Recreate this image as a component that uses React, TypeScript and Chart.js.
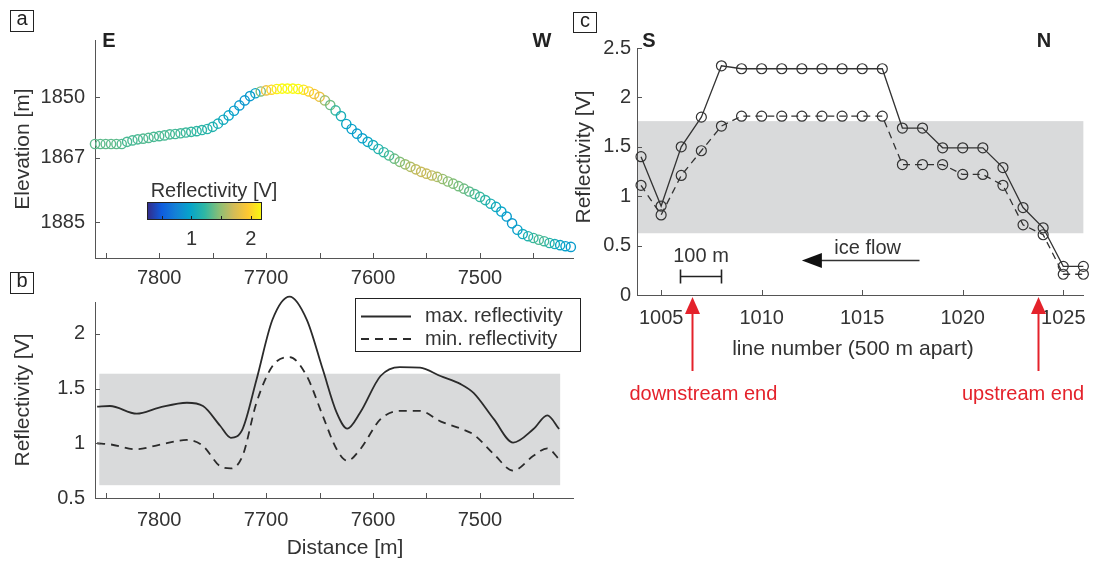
import React, { useEffect, useRef } from 'react';
import { Chart, registerables } from 'chart.js';

Chart.register(...registerables);

const W = 1097;
const H = 563;
const FONT = '"Liberation Sans", Arial, Helvetica, sans-serif';
const TEXT = '#333333';
const AXIS = '#555555';
const BAND = '#d9dadb';
const RED = '#e4222b';

// ---------------- Panel a: elevation profile coloured by reflectivity ----------------
const distanceA = [
  7860, 7855, 7850, 7845, 7840, 7835, 7830, 7825, 7820, 7815, 7810, 7805, 7800, 7795, 7790,
  7785, 7780, 7775, 7770, 7765, 7760, 7755, 7750, 7745, 7740, 7735, 7730, 7725, 7720, 7715,
  7710, 7705, 7700, 7695, 7690, 7685, 7680, 7675, 7670, 7665, 7660, 7655, 7650, 7645, 7640,
  7635, 7630, 7625, 7620, 7615, 7610, 7605, 7600, 7595, 7590, 7585, 7580, 7575, 7570, 7565,
  7560, 7555, 7550, 7545, 7540, 7535, 7530, 7525, 7520, 7515, 7510, 7505, 7500, 7495, 7490,
  7485, 7480, 7475, 7470, 7465, 7460, 7455, 7450, 7445, 7440, 7435, 7430, 7425, 7420, 7415,
];
const elevationA = [
  1863.1, 1863.1, 1863.1, 1863.1, 1863.1, 1863.1, 1862.5, 1862.1, 1861.8, 1861.6, 1861.4, 1861.1, 1860.9, 1860.7, 1860.4,
  1860.3, 1860.1, 1859.9, 1859.7, 1859.5, 1859.2, 1858.9, 1858.3, 1857.4, 1856.3, 1855.1, 1853.8, 1852.3, 1850.9, 1849.7,
  1848.9, 1848.4, 1848.1, 1847.9, 1847.7, 1847.6, 1847.6, 1847.6, 1847.7, 1847.9, 1848.4, 1849.1, 1849.9, 1850.9, 1852.2,
  1853.7, 1855.3, 1857.5, 1858.9, 1860.2, 1861.5, 1862.5, 1863.4, 1864.5, 1865.4, 1866.3, 1867.2, 1868.1, 1868.8, 1869.5,
  1870.2, 1870.9, 1871.4, 1871.9, 1872.3, 1872.9, 1873.6, 1874.2, 1874.9, 1875.6, 1876.4, 1877.1, 1877.9, 1878.8, 1879.8,
  1880.7, 1882.0, 1883.4, 1885.3, 1887.1, 1888.3, 1888.9, 1889.4, 1889.9, 1890.3, 1890.8, 1891.1, 1891.4, 1891.7, 1891.9,
];
const reflectivityA = [
  1.35, 1.35, 1.35, 1.35, 1.35, 1.32, 1.3, 1.3, 1.3, 1.32, 1.32, 1.3, 1.3, 1.3, 1.3,
  1.28, 1.28, 1.26, 1.24, 1.22, 1.2, 1.18, 1.15, 1.1, 1.05, 1.0, 0.95, 0.9, 0.88, 0.9,
  1.0, 1.45, 1.85, 2.0, 2.15, 2.2, 2.2, 2.2, 2.2, 2.1, 2.0, 1.9, 1.85, 1.55, 1.4,
  1.25, 1.1, 1.0, 0.95, 0.92, 0.95, 1.0, 1.08, 1.15, 1.22, 1.3, 1.38, 1.45, 1.52, 1.6,
  1.65, 1.68, 1.68, 1.65, 1.6, 1.52, 1.48, 1.45, 1.42, 1.4, 1.35, 1.3, 1.25, 1.2, 1.12,
  1.05, 0.98, 0.92, 0.9, 0.95, 1.05, 1.15, 1.25, 1.3, 1.28, 1.2, 1.1, 1.0, 0.95, 0.92,
];
const distanceRange = [7413, 7860];
const elevationRange = [1834, 1895];
const elevationTicks = [1850, 1867, 1885];
const distanceTicks = [7850, 7800, 7750, 7700, 7650, 7600, 7550, 7500, 7450];
const distanceLabels = [7800, 7700, 7600, 7500];
const colorbarRange = [0.25, 2.19];
const colorbarTicks = [0.5, 1, 1.5, 2];
const colorbarLabels = [1, 2];

// ---------------- Panel b: max / min reflectivity along distance ----------------
const distanceB = [
  7858, 7846, 7821, 7800, 7774, 7759, 7743, 7733, 7722, 7709, 7694, 7678, 7662, 7647,
  7634, 7624, 7612, 7593, 7575, 7556, 7537, 7518, 7506, 7487, 7469, 7450, 7437, 7426,
];
const maxReflB = [
  1.335, 1.34, 1.27, 1.325, 1.37, 1.34, 1.16, 1.05, 1.13, 1.58, 2.13, 2.34, 2.13, 1.675,
  1.28, 1.134, 1.28, 1.614, 1.696, 1.69, 1.614, 1.54, 1.46, 1.22, 1.006, 1.13, 1.255, 1.13,
];
const minReflB = [
  1.0, 0.99, 0.945, 0.985, 1.03, 0.975, 0.79, 0.77, 0.885, 1.37, 1.705, 1.787, 1.614, 1.25,
  0.945, 0.84, 0.945, 1.22, 1.295, 1.295, 1.2, 1.134, 1.08, 0.9, 0.75, 0.885, 0.954, 0.854,
];
const reflRangeB = [0.5, 2.29];
const reflTicksB = [0.5, 1, 1.5, 2];
const bandBx = [7856, 7425];
const bandBy = [0.617, 1.635];
const seriesLabels = ['max. reflectivity', 'min. reflectivity'];

// ---------------- Panel c: reflectivity per survey line ----------------
const lineNumbers = [
  1004, 1005, 1006, 1007, 1008, 1009, 1010, 1011, 1012, 1013, 1014, 1015,
  1016, 1017, 1018, 1019, 1020, 1021, 1022, 1023, 1024, 1025, 1026,
];
const maxReflC = [
  1.4, 0.9, 1.5, 1.8, 2.32, 2.29, 2.29, 2.29, 2.29, 2.29, 2.29, 2.29,
  2.29, 1.69, 1.69, 1.49, 1.49, 1.49, 1.29, 0.885, 0.68, 0.29, 0.29,
];
const minReflC = [
  1.11, 0.81, 1.21, 1.46, 1.71, 1.81, 1.81, 1.81, 1.81, 1.81, 1.81, 1.81,
  1.81, 1.32, 1.32, 1.32, 1.22, 1.22, 1.11, 0.71, 0.61, 0.21, 0.21,
];
const lineRange = [1003.8, 1026];
const reflRangeC = [0, 2.5];
const lineTicks = [1005, 1010, 1015, 1020, 1025];
const reflTicksC = [0, 0.5, 1, 1.5, 2, 2.5];
const bandCy = [0.625, 1.76];
const endArrowLines = [1006.54, 1023.73];
const endLabelLines = [1007.1, 1023.0];
const endLabels = ['downstream end', 'upstream end'];
const scaleBarLines = [1005.95, 1008.0];
const scaleBarRefl = 0.196;
const scaleBarText = '100 m';
const iceFlowLines = [1012.0, 1017.85];
const iceFlowRefl = 0.355;
const iceFlowText = 'ice flow';

// ---------------- helpers ----------------
const PARULA = ['#352a87', '#0f5cdd', '#1481d6', '#06a4ca', '#2eb7a4', '#87bf77', '#d1bb59', '#fec832', '#f9fb0e'];

function hexToRgb(h: string) {
  const n = parseInt(h.slice(1), 16);
  return [(n >> 16) & 255, (n >> 8) & 255, n & 255];
}

function parula(v: number) {
  const [lo, hi] = colorbarRange;
  const t = Math.min(1, Math.max(0, (v - lo) / (hi - lo)));
  const pos = t * (PARULA.length - 1);
  const i = Math.min(PARULA.length - 2, Math.floor(pos));
  const f = pos - i;
  const a = hexToRgb(PARULA[i]);
  const b = hexToRgb(PARULA[i + 1]);
  const c = a.map((x, k) => Math.round(x + (b[k] - x) * f));
  return `rgb(${c[0]},${c[1]},${c[2]})`;
}

function text(ctx: any, s: string, x: number, y: number, size = 20, align = 'center', bold = false, color = TEXT, rot = 0) {
  ctx.save();
  ctx.font = `${bold ? 'bold ' : ''}${size}px ${FONT}`;
  ctx.fillStyle = color;
  ctx.textAlign = align;
  ctx.textBaseline = 'middle';
  ctx.translate(x, y);
  if (rot) ctx.rotate(rot);
  ctx.fillText(s, 0, 0);
  ctx.restore();
}

function panelLetter(ctx: any, s: string, x: number, y: number, w: number, h: number) {
  ctx.save();
  ctx.strokeStyle = '#222';
  ctx.lineWidth = 1;
  ctx.strokeRect(x + 0.5, y + 0.5, w, h);
  ctx.restore();
  text(ctx, s, x + w / 2 + 0.5, y + h / 2 - 1, 20, 'center', false, '#222');
}

function inwardTicks(chart: any, len = 5) {
  const { ctx, chartArea: a } = chart;
  const xs = chart.scales.x;
  const ys = chart.scales.y;
  ctx.save();
  ctx.strokeStyle = AXIS;
  ctx.lineWidth = 1;
  ctx.beginPath();
  xs.ticks.forEach((t: any) => {
    const p = Math.round(xs.getPixelForValue(t.value)) + 0.5;
    ctx.moveTo(p, a.bottom);
    ctx.lineTo(p, a.bottom - len);
  });
  ys.ticks.forEach((t: any) => {
    const p = Math.round(ys.getPixelForValue(t.value)) + 0.5;
    ctx.moveTo(a.left, p);
    ctx.lineTo(a.left + len, p);
  });
  ctx.stroke();
  ctx.restore();
}

function baseScale(o: any) {
  const { ticks, ...rest } = o;
  return {
    type: 'linear',
    grid: { display: false, drawTicks: false },
    border: { display: true, color: AXIS, width: 1 },
    ...rest,
    ticks: {
      color: TEXT,
      font: { family: FONT, size: 20 },
      autoSkip: false,
      maxRotation: 0,
      minRotation: 0,
      includeBounds: false,
      callback: (v: any) => String(v),
      ...ticks,
    },
  };
}

const yTitle = (s: string) => ({
  display: true,
  text: s,
  color: TEXT,
  font: { family: FONT, size: 21 },
  padding: { top: 3, bottom: 0 },
});

function makeA(canvas: HTMLCanvasElement) {
  const plugin = {
    id: 'panelA',
    afterDraw(chart: any) {
      const ctx = chart.ctx;
      inwardTicks(chart);
      panelLetter(ctx, 'a', 10, 10, 23, 21);
      text(ctx, 'E', 109, 41, 20, 'center', true, '#222');
      text(ctx, 'W', 542, 41, 20, 'center', true, '#222');
      // colour bar
      const [c0, c1] = colorbarRange;
      const L = 147, R = 262, T = 202, B = 220;
      const g = ctx.createLinearGradient(L, 0, R, 0);
      PARULA.forEach((c, i) => g.addColorStop(i / (PARULA.length - 1), c));
      ctx.save();
      ctx.fillStyle = g;
      ctx.fillRect(L, T, R - L, B - T);
      ctx.strokeStyle = '#222';
      ctx.lineWidth = 1;
      ctx.strokeRect(L + 0.5, T + 0.5, R - L - 1, B - T - 1);
      ctx.beginPath();
      colorbarTicks.forEach((v) => {
        const px = Math.round(L + ((v - c0) / (c1 - c0)) * (R - L)) + 0.5;
        ctx.moveTo(px, B);
        ctx.lineTo(px, B - 4);
      });
      ctx.stroke();
      ctx.restore();
      colorbarLabels.forEach((v) => {
        const px = L + ((v - c0) / (c1 - c0)) * (R - L);
        text(ctx, String(v), px, 239, 20);
      });
      text(ctx, 'Reflectivity [V]', 214, 191, 20);
    },
  };
  return new Chart(canvas, {
    type: 'scatter',
    data: {
      datasets: [
        {
          data: distanceA.map((d, i) => ({ x: d, y: elevationA[i] })),
          showLine: false,
          pointRadius: 4.6,
          pointBorderWidth: 1.4,
          pointBackgroundColor: 'rgba(0,0,0,0)',
          pointBorderColor: reflectivityA.map(parula),
          clip: false,
        },
      ],
    },
    options: {
      animation: false,
      responsive: false,
      events: [],
      layout: { padding: { left: 8, top: 40, right: W - 573, bottom: H - 258 - 30 } },
      plugins: { legend: { display: false }, tooltip: { enabled: false } },
      scales: {
        x: baseScale({
          min: distanceRange[0],
          max: distanceRange[1],
          reverse: true,
          afterBuildTicks: (s: any) => { s.ticks = distanceTicks.map((v) => ({ value: v })); },
          afterFit: (s: any) => { s.height = 30; },
          ticks: { padding: 8, callback: (v: any) => (distanceLabels.includes(v) ? String(v) : '') },
        }),
        y: baseScale({
          min: elevationRange[0],
          max: elevationRange[1],
          reverse: true,
          afterBuildTicks: (s: any) => { s.ticks = elevationTicks.map((v) => ({ value: v })); },
          afterFit: (s: any) => { s.width = 87; },
          ticks: { padding: 10 },
          title: yTitle('Elevation [m]'),
        }),
      },
    },
    plugins: [plugin],
  } as any);
}

function makeB(canvas: HTMLCanvasElement) {
  const plugin = {
    id: 'panelB',
    beforeDraw(chart: any) {
      const { ctx } = chart;
      const xs = chart.scales.x, ys = chart.scales.y;
      const x0 = xs.getPixelForValue(bandBx[0]), x1 = xs.getPixelForValue(bandBx[1]);
      const y0 = ys.getPixelForValue(bandBy[1]), y1 = ys.getPixelForValue(bandBy[0]);
      ctx.save();
      ctx.fillStyle = BAND;
      ctx.fillRect(x0, y0, x1 - x0, y1 - y0);
      ctx.restore();
    },
    afterDraw(chart: any) {
      const ctx = chart.ctx;
      inwardTicks(chart);
      panelLetter(ctx, 'b', 10, 272, 23, 21);
      // legend
      const L = 355, T = 298, R = 580, B = 351;
      ctx.save();
      ctx.fillStyle = '#fff';
      ctx.fillRect(L, T, R - L, B - T);
      ctx.strokeStyle = '#222';
      ctx.lineWidth = 1;
      ctx.strokeRect(L + 0.5, T + 0.5, R - L, B - T);
      const rows = [316.5, 339];
      chart.data.datasets.forEach((ds: any, i: number) => {
        ctx.strokeStyle = ds.borderColor;
        ctx.lineWidth = ds.borderWidth;
        ctx.setLineDash(ds.borderDash || []);
        ctx.beginPath();
        ctx.moveTo(361, rows[i]);
        ctx.lineTo(411, rows[i]);
        ctx.stroke();
        ctx.setLineDash([]);
        text(ctx, ds.label, 425, rows[i], 20, 'left');
      });
      ctx.restore();
      text(ctx, 'Distance [m]', 345, 548, 21);
    },
  };
  return new Chart(canvas, {
    type: 'scatter',
    data: {
      datasets: [
        {
          label: seriesLabels[0],
          data: distanceB.map((d, i) => ({ x: d, y: maxReflB[i] })),
          showLine: true,
          pointRadius: 0,
          borderColor: '#2b2b2b',
          borderWidth: 1.8,
          cubicInterpolationMode: 'monotone',
          clip: false,
        },
        {
          label: seriesLabels[1],
          data: distanceB.map((d, i) => ({ x: d, y: minReflB[i] })),
          showLine: true,
          pointRadius: 0,
          borderColor: '#2b2b2b',
          borderWidth: 1.8,
          borderDash: [8, 6],
          cubicInterpolationMode: 'monotone',
          clip: false,
        },
      ],
    },
    options: {
      animation: false,
      responsive: false,
      events: [],
      layout: { padding: { left: 8, top: 302, right: W - 573, bottom: H - 498 - 40 } },
      plugins: { legend: { display: false }, tooltip: { enabled: false } },
      scales: {
        x: baseScale({
          min: distanceRange[0],
          max: distanceRange[1],
          reverse: true,
          afterBuildTicks: (s: any) => { s.ticks = distanceTicks.map((v) => ({ value: v })); },
          afterFit: (s: any) => { s.height = 40; },
          ticks: { padding: 10, callback: (v: any) => (distanceLabels.includes(v) ? String(v) : '') },
        }),
        y: baseScale({
          min: reflRangeB[0],
          max: reflRangeB[1],
          afterBuildTicks: (s: any) => { s.ticks = reflTicksB.map((v) => ({ value: v })); },
          afterFit: (s: any) => { s.width = 87; },
          ticks: { padding: 10 },
          title: yTitle('Reflectivity [V]'),
        }),
      },
    },
    plugins: [plugin],
  } as any);
}

function makeC(canvas: HTMLCanvasElement) {
  const plugin = {
    id: 'panelC',
    beforeDraw(chart: any) {
      const { ctx, chartArea: a } = chart;
      const ys = chart.scales.y;
      const y0 = ys.getPixelForValue(bandCy[1]), y1 = ys.getPixelForValue(bandCy[0]);
      ctx.save();
      ctx.fillStyle = BAND;
      ctx.fillRect(a.left, y0, a.right - a.left, y1 - y0);
      ctx.restore();
    },
    afterDraw(chart: any) {
      const ctx = chart.ctx;
      const xs = chart.scales.x, ys = chart.scales.y;
      inwardTicks(chart);
      panelLetter(ctx, 'c', 573, 12, 23, 20);
      text(ctx, 'S', 649, 41, 20, 'center', true, '#222');
      text(ctx, 'N', 1044, 41, 20, 'center', true, '#222');
      text(ctx, 'Reflectivity [V]', 584, 157, 21, 'center', false, TEXT, -Math.PI / 2);
      text(ctx, 'line number (500 m apart)', 853, 349, 21);
      ctx.save();
      // 100 m scale bar
      const bx0 = Math.round(xs.getPixelForValue(scaleBarLines[0])) + 0.5;
      const bx1 = Math.round(xs.getPixelForValue(scaleBarLines[1])) + 0.5;
      const by = Math.round(ys.getPixelForValue(scaleBarRefl)) + 0.5;
      ctx.strokeStyle = '#222';
      ctx.lineWidth = 1.6;
      ctx.beginPath();
      ctx.moveTo(bx0, by); ctx.lineTo(bx1, by);
      ctx.moveTo(bx0, by - 7); ctx.lineTo(bx0, by + 7);
      ctx.moveTo(bx1, by - 7); ctx.lineTo(bx1, by + 7);
      ctx.stroke();
      text(ctx, scaleBarText, (bx0 + bx1) / 2, by - 20, 20);
      // ice flow arrow
      const ax0 = xs.getPixelForValue(iceFlowLines[0]);
      const ax1 = xs.getPixelForValue(iceFlowLines[1]);
      const ay = Math.round(ys.getPixelForValue(iceFlowRefl)) + 0.5;
      ctx.strokeStyle = '#333';
      ctx.lineWidth = 1.4;
      ctx.beginPath();
      ctx.moveTo(ax0 + 18, ay); ctx.lineTo(ax1, ay);
      ctx.stroke();
      ctx.fillStyle = '#111';
      ctx.beginPath();
      ctx.moveTo(ax0, ay);
      ctx.lineTo(ax0 + 20, ay - 7.5);
      ctx.lineTo(ax0 + 20, ay + 7.5);
      ctx.closePath();
      ctx.fill();
      text(ctx, iceFlowText, (ax0 + ax1) / 2 + 7, ay - 12, 20);
      // red end markers
      const bottom = chart.chartArea.bottom;
      endArrowLines.forEach((v, i) => {
        const px = Math.round(xs.getPixelForValue(v)) + 0.5;
        ctx.strokeStyle = RED;
        ctx.lineWidth = 2;
        ctx.beginPath();
        ctx.moveTo(px, bottom + 16);
        ctx.lineTo(px, bottom + 76);
        ctx.stroke();
        ctx.fillStyle = RED;
        ctx.beginPath();
        ctx.moveTo(px, bottom + 2);
        ctx.lineTo(px - 7.5, bottom + 19);
        ctx.lineTo(px + 7.5, bottom + 19);
        ctx.closePath();
        ctx.fill();
        text(ctx, endLabels[i], xs.getPixelForValue(endLabelLines[i]), bottom + 99, 20, 'center', false, RED);
      });
      ctx.restore();
    },
  };
  const common = {
    showLine: true,
    borderColor: '#333',
    borderWidth: 1.3,
    pointRadius: 5,
    pointBorderWidth: 1.2,
    pointBorderColor: '#333',
    pointBackgroundColor: 'rgba(0,0,0,0)',
    clip: false,
  };
  return new Chart(canvas, {
    type: 'scatter',
    data: {
      datasets: [
        { ...common, label: seriesLabels[0], data: lineNumbers.map((n, i) => ({ x: n, y: maxReflC[i] })) },
        { ...common, label: seriesLabels[1], borderDash: [7, 5], data: lineNumbers.map((n, i) => ({ x: n, y: minReflC[i] })) },
      ],
    },
    options: {
      animation: false,
      responsive: false,
      events: [],
      layout: { padding: { left: 577, top: 48, right: W - 1086, bottom: H - 295 - 40 } },
      plugins: { legend: { display: false }, tooltip: { enabled: false } },
      scales: {
        x: baseScale({
          min: lineRange[0],
          max: lineRange[1],
          afterBuildTicks: (s: any) => { s.ticks = lineTicks.map((v) => ({ value: v })); },
          afterFit: (s: any) => { s.height = 40; },
          ticks: { padding: 11 },
        }),
        y: baseScale({
          min: reflRangeC[0],
          max: reflRangeC[1],
          afterBuildTicks: (s: any) => { s.ticks = reflTicksC.map((v) => ({ value: v })); },
          afterFit: (s: any) => { s.width = 60; },
          ticks: { padding: 6 },
        }),
      },
    },
    plugins: [plugin],
  } as any);
}

export default function App() {
  const refA = useRef<HTMLCanvasElement>(null);
  const refB = useRef<HTMLCanvasElement>(null);
  const refC = useRef<HTMLCanvasElement>(null);

  useEffect(() => {
    const charts = [makeA(refA.current!), makeB(refB.current!), makeC(refC.current!)];
    return () => charts.forEach((c) => c.destroy());
  }, []);

  const cs: any = { position: 'absolute', left: 0, top: 0, width: W, height: H };
  return (
    <div style={{ position: 'fixed', left: 0, top: 0, width: W, height: H, background: '#fff', overflow: 'hidden' }}>
      <canvas ref={refA} width={W} height={H} style={cs} />
      <canvas ref={refB} width={W} height={H} style={cs} />
      <canvas ref={refC} width={W} height={H} style={cs} />
    </div>
  );
}
